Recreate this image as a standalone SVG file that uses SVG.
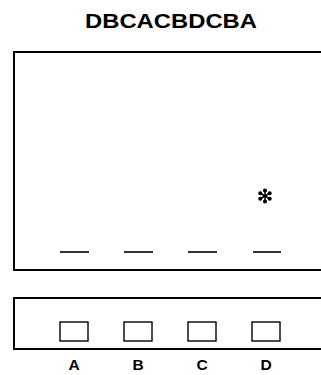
<svg xmlns="http://www.w3.org/2000/svg" width="321" height="375" viewBox="0 0 321 375">
<style>
.frame{fill:none;stroke:#000;stroke-width:2}
.band{stroke:#000;stroke-width:1.6}
.well{fill:#fff;stroke:#000;stroke-width:1.4}
.lbl{font-family:"Liberation Sans",Arial,sans-serif;font-weight:bold;font-size:15.5px;text-anchor:middle;fill:#000}
</style>
<rect width="321" height="375" fill="#fff"/>
<text x="171" y="28" font-family="'Liberation Sans',Arial,sans-serif" font-weight="bold" font-size="21" text-anchor="middle" textLength="172" lengthAdjust="spacingAndGlyphs">DBCACBDCBA</text>
<g id="gel">
<rect class="frame" x="14" y="52" width="320" height="218"/>
</g>
<g id="bands">
<line class="band" x1="60" y1="252" x2="89" y2="252"/>
<line class="band" x1="124" y1="252" x2="153" y2="252"/>
<line class="band" x1="188" y1="252" x2="217" y2="252"/>
<line class="band" x1="253" y1="252" x2="281" y2="252"/>
</g>
<g id="spot" stroke="#000" stroke-width="1.5" fill="#000">
<line x1="265" y1="191" x2="265" y2="201"/>
<line x1="260.7" y1="193.5" x2="269.3" y2="198.5"/>
<line x1="260.7" y1="198.5" x2="269.3" y2="193.5"/>
<circle cx="265" cy="190.5" r="1.3"/>
<circle cx="265" cy="201.5" r="1.3"/>
<circle cx="260.3" cy="193.2" r="1.3"/>
<circle cx="269.7" cy="198.8" r="1.3"/>
<circle cx="260.3" cy="198.8" r="1.3"/>
<circle cx="269.7" cy="193.2" r="1.3"/>
</g>
<g id="comb">
<rect class="frame" x="14" y="298" width="320" height="51"/>
</g>
<g id="wellA"><rect class="well" x="60" y="322" width="28" height="19"/><text class="lbl" x="74" y="370">A</text></g>
<g id="wellB"><rect class="well" x="124" y="322" width="28" height="19"/><text class="lbl" x="138" y="370">B</text></g>
<g id="wellC"><rect class="well" x="188" y="322" width="28" height="19"/><text class="lbl" x="202" y="370">C</text></g>
<g id="wellD"><rect class="well" x="252" y="322" width="28" height="19"/><text class="lbl" x="266" y="370">D</text></g>
</svg>
